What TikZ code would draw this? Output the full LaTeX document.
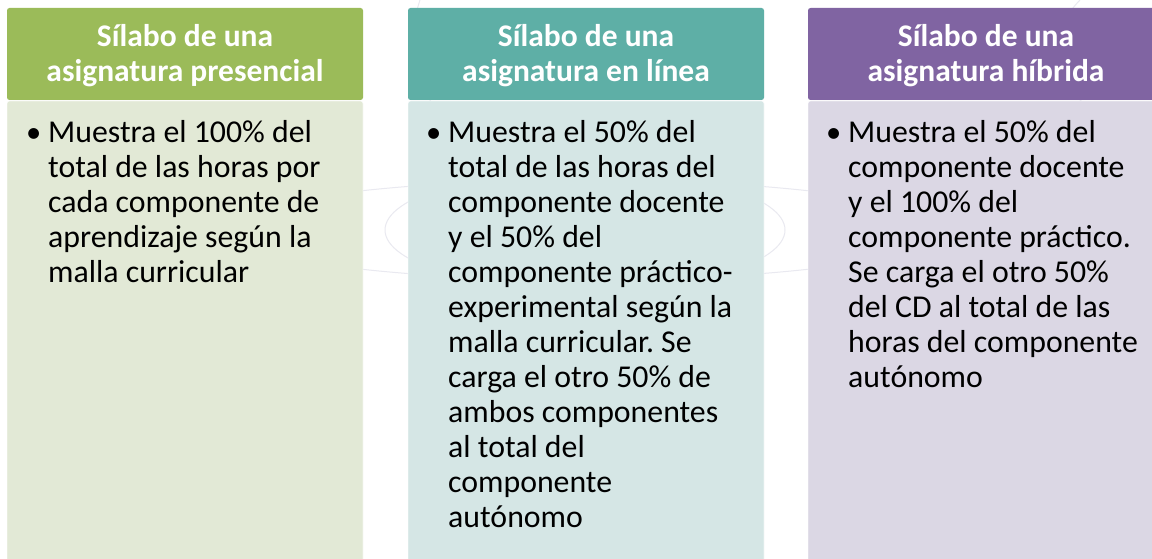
\documentclass[tikz,border=0pt]{standalone}
\usepackage{fontspec}
\setmainfont{Carlito}
\frenchspacing
\definecolor{hdgreen}{HTML}{9BBB59}
\definecolor{hdteal}{HTML}{5EAFA6}
\definecolor{hdpurple}{HTML}{8064A2}
\definecolor{bdgreen}{HTML}{E2E9D6}
\definecolor{bdteal}{HTML}{D5E6E5}
\definecolor{bdpurple}{HTML}{DBD7E4}
\definecolor{wmark}{HTML}{E9E9F0}
\tikzset{
  hdbox/.style={rounded corners=2.5pt, draw=none},
  bdbox/.style={rounded corners=2.5pt, draw=white, draw opacity=0.6, line width=0.8pt},
  hdtext/.style={font=\fontsize{31.5}{35}\selectfont\bfseries, text=white, align=center, inner sep=0pt, anchor=base},
  bdtext/.style={font=\fontsize{31.8}{35}\selectfont, text=black, text width=320pt, align=flush left, inner sep=0pt, anchor=base west},
  bullet/.style={font=\fontsize{30.5}{35}\selectfont, inner sep=0pt, anchor=base west},
  wm/.style={draw=wmark, line width=1pt}
}
\begin{document}
\begin{tikzpicture}[x=1pt,y=-1pt]
\useasboundingbox (0,0) rectangle (1152,559);
\fill[white] (0,0) rectangle (1152,559);
% faint watermark arcs
\begin{scope}
\clip (0,0) rectangle (1152,559);
\draw[wm] (585,230) circle [x radius=200pt, y radius=60pt];
\draw[wm] (585,230) circle [x radius=360pt, y radius=50pt];
\draw[wm] (420,0) .. controls (400,60) and (420,110) .. (470,130);
\draw[wm] (1080,0) .. controls (1040,40) and (1060,100) .. (1110,120);
\end{scope}
% column 1
\fill[hdbox, hdgreen] (7,8) rectangle (363,100);
\draw[bdbox, fill=bdgreen] (7,101) rectangle (363,575);
\node[hdtext] (h1a) at (185,47) {Sílabo de una};
\node[hdtext] (h1b) at (185,82) {asignatura presencial};
\node[bullet] (b1) at (26,143) {•};
\node[bdtext] (t1) at (48,143) {Muestra el 100\% del\\total de las horas por\\cada componente de\\aprendizaje según la\\malla curricular};
% column 2
\fill[hdbox, hdteal] (408,8) rectangle (764,100);
\draw[bdbox, fill=bdteal] (408,101) rectangle (764,575);
\node[hdtext] (h2a) at (586,47) {Sílabo de una};
\node[hdtext] (h2b) at (586,82) {asignatura en línea};
\node[bullet] (b2) at (426,143) {•};
\node[bdtext] (t2) at (448,143) {Muestra el 50\% del\\total de las horas del\\componente docente\\y el 50\% del\\componente práctico-\\experimental según la\\malla curricular. Se\\carga el otro 50\% de\\ambos componentes\\al total del\\componente\\autónomo};
% column 3
\fill[hdbox, hdpurple] (808,8) rectangle (1170,100);
\draw[bdbox, fill=bdpurple] (808,101) rectangle (1170,575);
\node[hdtext] (h3a) at (986,47) {Sílabo de una};
\node[hdtext] (h3b) at (986,82) {asignatura híbrida};
\node[bullet] (b3) at (826,143) {•};
\node[bdtext] (t3) at (848,143) {Muestra el 50\% del\\componente docente\\y el 100\% del\\componente práctico.\\Se carga el otro 50\%\\del CD al total de las\\horas del componente\\autónomo};
\end{tikzpicture}
\end{document}
